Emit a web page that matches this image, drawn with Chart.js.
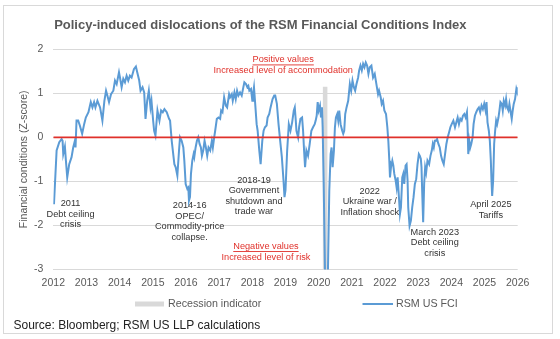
<!DOCTYPE html>
<html>
<head>
<meta charset="utf-8">
<script src="https://cdn.jsdelivr.net/npm/chart.js@4/dist/chart.umd.min.js"></script>
<style>
html,body{margin:0;padding:0;background:#fff;}
#wrap{position:relative;width:560px;height:339px;}
</style>
</head>
<body>
<div id="wrap"><canvas id="c" width="560" height="339"></canvas></div>
<script>
// ---- data ----
const fciYears = [
2012.02,2012.10,2012.18,2012.25,2012.28,2012.30,2012.35,2012.38,2012.42,2012.48,2012.55,2012.60,2012.65,2012.67,2012.70,2012.75,2012.80,2012.87,2012.93,2012.98,
2013.06,2013.13,2013.18,2013.23,2013.27,2013.33,2013.41,2013.48,2013.54,2013.59,2013.63,2013.68,2013.74,2013.81,2013.86,2013.91,2013.98,
2014.01,2014.06,2014.11,2014.16,2014.21,2014.26,2014.31,2014.36,2014.43,2014.49,2014.53,2014.59,2014.63,2014.69,2014.74,2014.78,2014.83,2014.88,2014.93,2014.96,
2015.01,2015.04,2015.08,2015.14,2015.20,2015.25,2015.30,2015.35,2015.42,2015.49,2015.52,2015.57,2015.65,2015.69,2015.74,2015.79,2015.82,2015.87,2015.92,2015.95,2015.99,
2016.04,2016.07,2016.09,2016.12,2016.15,2016.19,2016.23,2016.25,2016.29,2016.33,2016.37,2016.41,2016.45,2016.48,2016.52,2016.56,2016.60,2016.64,2016.68,2016.73,2016.78,2016.81,2016.85,2016.88,2016.93,2016.98,
2017.03,2017.06,2017.10,2017.15,2017.20,2017.24,2017.30,2017.33,2017.38,2017.41,2017.46,2017.50,2017.54,2017.58,2017.63,2017.68,2017.73,2017.76,2017.81,2017.85,2017.88,2017.91,2017.96,
2018.00,2018.02,2018.05,2018.08,2018.13,2018.16,2018.21,2018.25,2018.30,2018.34,2018.38,2018.43,2018.46,2018.51,2018.55,2018.61,2018.66,2018.69,2018.74,2018.79,2018.84,2018.89,2018.94,2018.97,
2019.00,2019.05,2019.10,2019.15,2019.20,2019.25,2019.28,2019.31,2019.33,2019.38,2019.41,2019.45,2019.50,2019.53,2019.56,2019.59,2019.63,2019.68,2019.73,2019.78,2019.83,2019.88,2019.91,2019.94,2019.97,
2020.00,2020.04,2020.07,2020.10,2020.12,2020.15,2020.19,2020.23,2020.28,2020.32,2020.36,2020.39,2020.42,2020.46,2020.49,2020.52,2020.56,2020.59,2020.62,2020.66,2020.71,2020.74,2020.77,2020.80,2020.84,2020.89,2020.94,2020.98,
2021.02,2021.06,2021.10,2021.14,2021.19,2021.22,2021.26,2021.30,2021.34,2021.38,2021.42,2021.46,2021.50,2021.54,2021.59,2021.64,2021.69,2021.74,2021.79,2021.82,2021.87,2021.90,2021.94,2021.98,
2022.03,2022.07,2022.10,2022.13,2022.15,2022.18,2022.22,2022.25,2022.28,2022.32,2022.35,2022.38,2022.42,2022.45,2022.48,2022.52,2022.55,2022.58,2022.62,2022.65,2022.68,2022.70,2022.74,2022.78,2022.82,2022.86,2022.90,2022.94,2022.98,
2023.02,2023.05,2023.08,2023.10,2023.12,2023.15,2023.18,2023.21,2023.24,2023.28,2023.33,2023.37,2023.41,2023.44,2023.47,2023.50,2023.53,2023.57,2023.61,2023.65,2023.69,2023.73,2023.77,2023.81,2023.85,2023.89,2023.93,2023.97,
2024.01,2024.06,2024.11,2024.15,2024.19,2024.23,2024.27,2024.31,2024.35,2024.39,2024.43,2024.47,2024.49,2024.51,2024.54,2024.57,2024.60,2024.64,2024.67,2024.71,2024.75,2024.79,2024.83,2024.87,2024.91,2024.95,2024.99,
2025.03,2025.06,2025.09,2025.13,2025.16,2025.19,2025.21,2025.23,2025.26,2025.29,2025.32,2025.35,2025.38,2025.42,2025.45,2025.48,2025.52,2025.55,2025.58,2025.62,2025.65,2025.68,2025.72,2025.75,2025.78,2025.82,2025.85,2025.88,2025.92,2025.96,2025.99,2026.02
];
const fciValues = [
-1.52,-0.30,-0.11,-0.04,-0.08,-0.38,-0.21,-0.53,-0.91,-0.61,-0.45,-0.23,-0.08,-0.23,0.38,0.38,0.27,0.08,0.30,0.45,
0.57,0.80,0.68,0.80,0.68,0.83,0.68,0.38,0.83,1.06,0.95,0.80,0.98,1.06,1.29,1.21,1.48,
1.36,1.14,1.33,1.25,1.40,1.29,1.40,1.36,1.55,1.61,1.48,1.29,1.06,1.14,1.02,0.42,0.83,1.06,0.68,0.83,
0.38,0.15,0.04,0.61,0.38,0.61,0.57,0.64,0.57,0.42,0.38,-0.08,-0.61,-0.68,-0.87,-0.30,0.00,-0.08,-0.23,-0.53,-1.06,
-1.17,-1.14,-1.44,-1.36,-0.83,-0.53,-0.38,-0.45,-0.23,-0.08,0.00,-0.15,-0.23,-0.42,-0.30,-0.08,-0.23,-0.42,-0.23,-0.30,-0.08,-0.23,0.00,0.15,0.42,0.45,
0.42,0.61,0.57,0.91,0.72,0.68,0.98,0.91,0.98,0.83,1.02,0.87,1.06,0.95,1.02,0.95,1.14,1.25,1.21,1.14,1.17,1.06,1.10,
0.83,0.98,1.14,0.83,0.30,0.15,-0.30,-0.61,-0.08,0.15,0.23,0.27,0.45,0.53,0.68,0.87,0.95,0.95,0.76,0.30,-0.08,-0.45,-0.98,-1.36,
-1.20,-0.30,0.30,0.15,0.34,0.61,0.68,0.38,0.15,0.00,0.23,0.42,0.45,0.15,-0.30,-0.68,-0.30,-0.42,-0.15,0.15,0.23,0.30,0.38,0.49,0.80,
0.61,0.72,0.45,0.68,0.23,-1.00,-3.00,-3.80,-3.00,-1.21,-0.38,-0.23,-0.68,-0.30,0.23,0.45,0.53,0.38,0.61,0.30,0.15,0.08,0.15,0.53,0.68,0.83,1.21,1.06,
1.29,1.14,1.06,1.21,1.36,1.52,1.63,1.52,1.67,1.59,1.70,1.63,1.44,1.59,1.63,1.36,1.44,1.21,0.98,1.06,0.91,0.76,0.83,0.61,
0.53,0.23,-0.08,-0.53,-0.91,-0.68,-0.53,-0.64,-0.83,-0.98,-1.14,-0.91,-1.36,-1.74,-1.59,-0.91,-0.83,-1.06,-0.64,-0.61,-0.98,-1.59,-2.01,-1.89,-1.59,-1.36,-1.06,-0.95,-0.61,
-0.38,-0.42,-0.49,-0.68,-1.21,-1.93,-1.06,-0.68,-0.80,-0.53,-0.61,-0.42,-0.30,-0.15,-0.23,-0.08,-0.08,-0.04,-0.15,-0.23,-0.42,-0.53,-0.61,-0.38,-0.15,0.00,0.11,0.23,
0.30,0.38,0.23,0.34,0.45,0.30,0.42,0.38,0.49,0.53,0.45,0.57,0.23,-0.38,-0.08,-0.23,-0.15,0.00,0.30,0.49,0.57,0.64,0.68,0.57,0.72,0.64,0.76,
0.61,0.80,0.34,0.15,-0.08,-0.53,-0.98,-1.33,-0.98,-0.15,0.15,0.38,0.30,0.45,0.61,0.80,0.76,0.61,0.83,0.72,0.87,0.68,0.61,0.76,0.61,0.42,0.61,0.76,0.87,1.10,1.02,1.14
];
const recessionYears = [2020.12, 2020.27];
const recessionValues = [1.15, 1.15];
const zeroLineYears = [2012, 2026];
const zeroLineValues = [0, 0];
const xTickYears = [2012,2013,2014,2015,2016,2017,2018,2019,2020,2021,2022,2023,2024,2025,2026];
const yTickValues = [-3,-2,-1,0,1,2];
const seriesLabels = ['Recession indicator', 'RSM US FCI'];
const chartTitle = 'Policy-induced dislocations of the RSM Financial Conditions Index';
const yAxisTitle = 'Financial conditions (Z-score)';
const sourceNote = 'Source: Bloomberg; RSM US LLP calculations';

// annotation anchors (in data units: year, z-score of first text line)
const notes = [
  {year: 2018.93, value: 1.76, lines: ['Positive values', 'Increased level of accommodation'], red: true},
  {year: 2018.41, value: -2.48, lines: ['Negative values', 'Increased level of risk'], red: true},
  {year: 2012.52, value: -1.51, lines: ['2011', 'Debt ceiling', 'crisis']},
  {year: 2016.11, value: -1.55, lines: ['2014-16', 'OPEC/', 'Commodity-price', 'collapse.']},
  {year: 2018.05, value: -0.97, lines: ['2018-19', 'Government', 'shutdown and', 'trade war']},
  {year: 2021.54, value: -1.22, lines: ['2022', 'Ukraine war /', 'Inflation shock']},
  {year: 2023.50, value: -2.15, lines: ['March 2023', 'Debt ceiling', 'crisis']},
  {year: 2025.19, value: -1.53, lines: ['April 2025', 'Tariffs']}
];

// ---- styles ----
const FONT = '"Liberation Sans", Arial, Helvetica, sans-serif';
const BLUE = '#5b9bd5';
const GREY_BAR = '#d9d9d9';
const RED = '#e0312b';
const TEXT_GREY = '#595959';
Chart.defaults.font.family = FONT;

const toPoints = (xs, ys) => xs.map((x, i) => ({x: x, y: ys[i]}));

const decor = {
  id: 'decor',
  beforeDraw(chart) {
    const c = chart.ctx;
    c.save();
    c.fillStyle = '#fff';
    c.fillRect(0, 0, chart.width, chart.height);
    c.strokeStyle = '#d9d9d9';
    c.lineWidth = 1;
    c.strokeRect(3.5, 5.5, 549, 328);
    c.restore();
  },
  afterDatasetsDraw(chart) {
    const c = chart.ctx;
    const xs = chart.scales.x, ys = chart.scales.y;
    c.save();
    c.font = '9.2px ' + FONT;
    c.textAlign = 'center';
    c.textBaseline = 'middle';
    notes.forEach(n => {
      const cx = xs.getPixelForValue(n.year);
      const cy = ys.getPixelForValue(n.value);
      c.fillStyle = n.red ? RED : '#333333';
      n.lines.forEach((t, i) => {
        const y = cy + i * 10.5;
        c.fillText(t, cx, y);
        if (n.red && i === 0) {
          const w = c.measureText(t).width;
          c.fillRect(cx - w / 2, y + 4.6, w, 0.9);
        }
      });
    });
    c.restore();
  },
  afterDraw(chart) {
    const c = chart.ctx;
    c.save();
    // legend
    c.fillStyle = GREY_BAR;
    c.fillRect(135, 301.5, 29, 5);
    c.strokeStyle = BLUE;
    c.lineWidth = 2;
    c.beginPath(); c.moveTo(362.5, 304); c.lineTo(393, 304); c.stroke();
    c.font = '10.7px ' + FONT;
    c.fillStyle = TEXT_GREY;
    c.textAlign = 'left';
    c.textBaseline = 'middle';
    c.fillText(seriesLabels[0], 168, 304);
    c.fillText(seriesLabels[1], 396, 304);
    // source
    c.font = '12px ' + FONT;
    c.fillStyle = '#222222';
    c.fillText(sourceNote, 13.5, 326);
    c.restore();
  }
};

new Chart(document.getElementById('c'), {
  type: 'line',
  data: {
    datasets: [
      {label: seriesLabels[1], data: toPoints(fciYears, fciValues), borderColor: BLUE, borderWidth: 2,
       pointRadius: 0, tension: 0, fill: false, order: 1},
      {label: seriesLabels[0], data: toPoints(recessionYears, recessionValues), borderWidth: 0, borderColor: GREY_BAR,
       backgroundColor: GREY_BAR, pointRadius: 0, fill: 'start', order: 2},
      {label: 'zero', data: toPoints(zeroLineYears, zeroLineValues), borderColor: RED, borderWidth: 1.6,
       pointRadius: 0, fill: false, order: 0}
    ]
  },
  options: {
    responsive: false,
    animation: false,
    devicePixelRatio: 1,
    layout: {padding: {left: 3, right: 42.3, top: 7, bottom: 43}},
    plugins: {
      legend: {display: false},
      tooltip: {enabled: false},
      title: {display: true, text: chartTitle, color: TEXT_GREY,
              font: {family: FONT, size: 13, weight: 'bold'}, padding: {top: 10.2, bottom: 16.5}}
    },
    scales: {
      x: {
        type: 'linear', min: 2012, max: 2026,
        afterBuildTicks: s => { s.ticks = xTickYears.map(v => ({value: v})); },
        ticks: {callback: v => String(v), color: TEXT_GREY, font: {size: 10.5}, padding: 7,
                maxRotation: 0, autoSkip: false},
        grid: {display: false, drawTicks: false},
        border: {display: false}
      },
      y: {
        min: -3, max: 2,
        afterBuildTicks: s => { s.ticks = yTickValues.map(v => ({value: v})); },
        afterFit: s => { s.width = 50.3; },
        ticks: {color: TEXT_GREY, font: {size: 10.5}, padding: 10},
        grid: {color: '#d9d9d9', lineWidth: 1, drawTicks: false},
        border: {display: false},
        title: {display: true, text: yAxisTitle, color: TEXT_GREY, font: {size: 10.5}, padding: {top: 15.2, bottom: 0}}
      }
    }
  },
  plugins: [decor]
});
</script>
</body>
</html>
